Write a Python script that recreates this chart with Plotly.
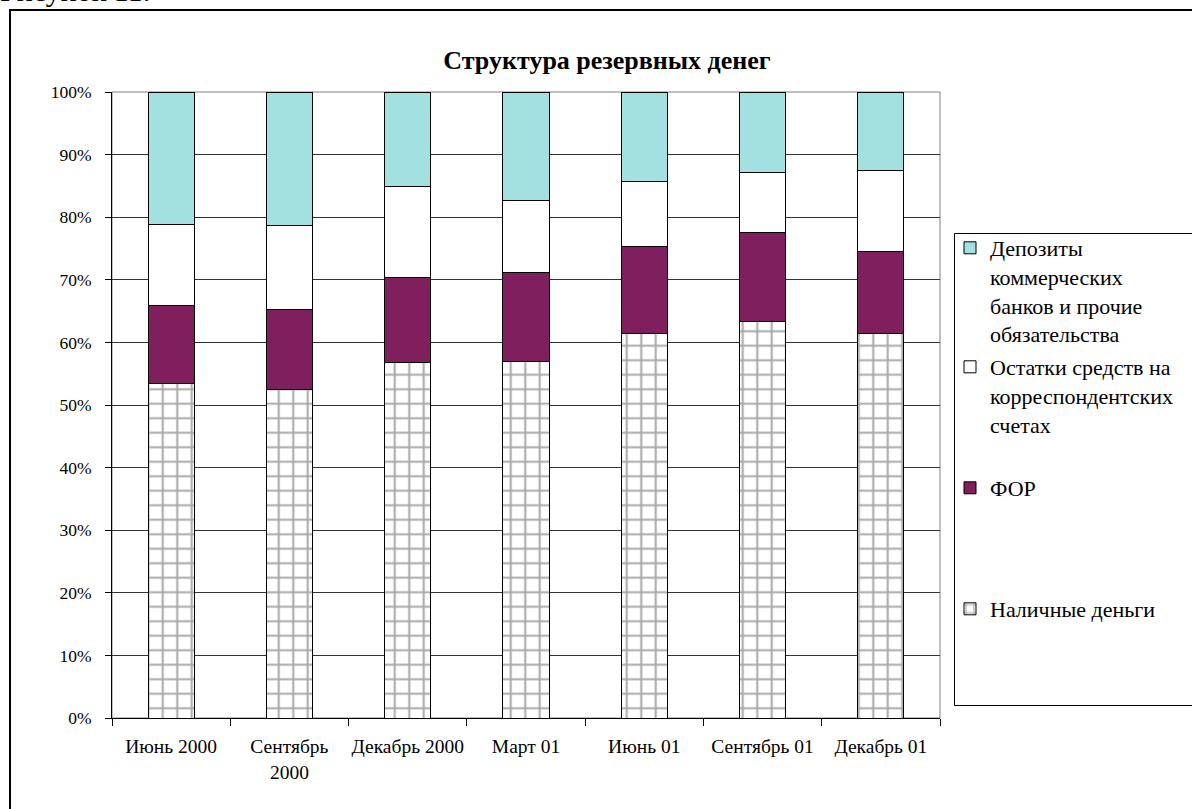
import plotly.graph_objects as go

categories = ["Июнь 2000", "Сентябрь<br>2000", "Декабрь 2000", "Март 01",
              "Июнь 01", "Сентябрь 01", "Декабрь 01"]

# shares, % of reserve money
cash = [53.4, 52.4, 56.8, 56.9, 61.4, 63.4, 61.4]          # Наличные деньги
for_reserves = [12.5, 12.8, 13.5, 14.3, 14.0, 14.2, 13.1]  # ФОР
corr_accounts = [13.0, 13.4, 14.6, 11.4, 10.3, 9.5, 13.0]  # Остатки средств на корр. счетах
deposits = [21.1, 21.4, 15.1, 17.4, 14.3, 12.9, 12.5]      # Депозиты коммерческих банков

y_ticks = [0, 10, 20, 30, 40, 50, 60, 70, 80, 90, 100]

FONT = "Liberation Serif, Times New Roman, serif"

# plot area in pixels
W, H = 1192, 809
L, R, T, B = 112, 940, 92, 718
pw, ph = R - L, B - T


def px(x):
    return (x - L) / pw


def py(y):
    return (B - y) / ph


fig = go.Figure()
line = dict(color="black", width=1)
fig.add_trace(go.Bar(
    x=categories, y=cash, name="Наличные деньги", legend="legend4",
    marker=dict(color="white", line=line,
                pattern=dict(shape="+", size=14.5, solidity=0.26,
                             fgcolor="#a8a8a8", bgcolor="white", fillmode="replace")),
))
fig.add_trace(go.Bar(
    x=categories, y=for_reserves, name="ФОР", legend="legend3",
    marker=dict(color="#7f1f5e", line=line),
))
fig.add_trace(go.Bar(
    x=categories, y=corr_accounts, name="Остатки средств на<br>корреспондентских<br>счетах",
    legend="legend2", marker=dict(color="white", line=line),
))
fig.add_trace(go.Bar(
    x=categories, y=deposits,
    name="Депозиты<br>коммерческих<br>банков и прочие<br>обязательства",
    legend="legend", marker=dict(color="#a3e0e0", line=line),
))

leg_common = dict(xanchor="left", yanchor="top", bgcolor="rgba(0,0,0,0)",
                  borderwidth=0, font=dict(family=FONT, size=22, color="black"),
                  valign="top", itemclick=False, itemdoubleclick=False)
lx = px(950)
legend_tops = {"legend": 227, "legend2": 346, "legend3": 467, "legend4": 588}

layout_legends = {k: dict(x=lx, y=py(v), **leg_common) for k, v in legend_tops.items()}

fig.update_layout(
    width=W, height=H,
    margin=dict(l=L, r=W - R, t=T, b=H - B, pad=0, autoexpand=False),
    barmode="stack", bargap=0.61,
    paper_bgcolor="white", plot_bgcolor="white",
    font=dict(family=FONT, color="black"),
    title=dict(text="<b>Структура резервных денег</b>",
               font=dict(family=FONT, size=26, color="black"),
               x=px(607), xref="paper", xanchor="center",
               y=1 - 60 / H, yref="container", yanchor="middle"),
    showlegend=True,
    **layout_legends,
    xaxis=dict(showline=True, linecolor="black", linewidth=1,
               ticks="outside", ticklen=7, tickcolor="black", tickwidth=1,
               tickson="boundaries", showgrid=False, tickangle=0, automargin=False,
               tickfont=dict(family=FONT, size=19.5, color="black"),
               ticklabelstandoff=11, fixedrange=True),
    yaxis=dict(range=[0, 100], tickvals=y_ticks,
               ticktext=[f"{v}%" for v in y_ticks],
               showline=True, linecolor="black", linewidth=1,
               ticks="outside", ticklen=6, tickcolor="black",
               showgrid=True, gridcolor="#333333", gridwidth=1,
               zeroline=False, automargin=False,
               tickfont=dict(family=FONT, size=17.5, color="black"),
               ticklabelstandoff=10, fixedrange=True),
    shapes=[
        # plot area frame (right/top, gray)
        dict(type="rect", xref="paper", yref="paper", x0=0, x1=1, y0=0, y1=1,
             line=dict(color="#808080", width=1), layer="below"),
        # legend box
        dict(type="rect", xref="paper", yref="paper",
             x0=px(954.5), x1=px(1205), y0=py(705.5), y1=py(233.5),
             line=dict(color="black", width=1), fillcolor="white", layer="below"),
        # outer chart border
        dict(type="rect", xref="paper", yref="paper",
             x0=px(10), x1=px(1205), y0=py(825), y1=py(10),
             line=dict(color="black", width=2), layer="below"),
    ],
    annotations=[
        dict(text="Рисунок 11.", xref="paper", yref="paper",
             x=px(-2), y=py(9), xanchor="left", yanchor="bottom",
             showarrow=False, font=dict(family=FONT, size=30, color="black")),
    ],
)

fig.write_html("out.html", config={"displayModeBar": False},
               post_script="document.body.style.margin='0';")
